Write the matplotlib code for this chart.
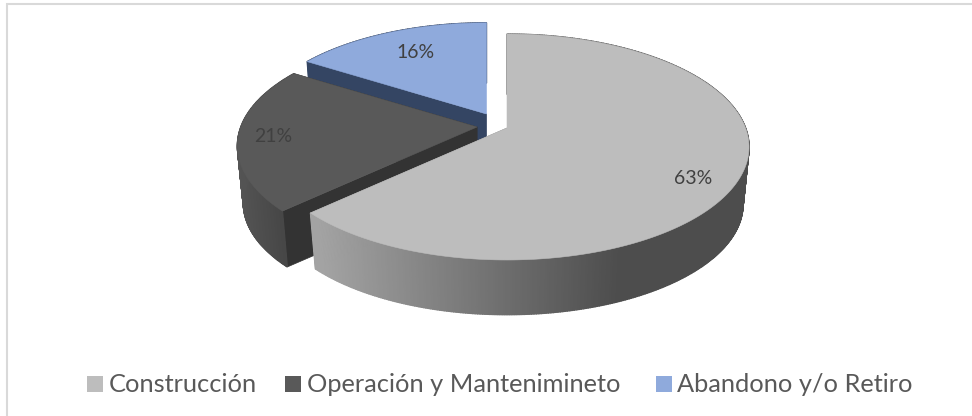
import numpy as np
import matplotlib
matplotlib.use("Agg")
import matplotlib.pyplot as plt
from matplotlib.patches import Polygon, Rectangle

categories = ["Construcción", "Operación y Mantenimineto", "Abandono y/o Retiro"]
shares = [63, 21, 16]
percent_labels = ["63%", "21%", "16%"]
top_colors = ["#bdbdbd", "#595959", "#8faadc"]
cut_colors = ["#8a8a8a", "#333333", "#344563"]

# pie geometry in pixels, perspective tilted like the office 3D pie
R_X = 238.6
R_Y = 109.8
PERSP = 0.168
DEPTH = 58
BOTTOM_SCALE = 0.975
apex_x = [507, 477, 486.5]
apex_y = [128, 127, 114]
slice_scale = [1.0, 0.99, 0.97]
label_x = [693, 273, 416]
label_y = [178, 136, 52]
legend_box_x = [87, 285, 656]
legend_text_x = [109, 307, 677]
LEGEND_Y = 384


def project(angle, cx, cy, scale):
    a = np.radians(angle)
    s = 1 / (1 + PERSP * np.cos(a))
    return cx + scale * R_X * np.sin(a) * s, cy - scale * R_Y * np.cos(a) * s


def lower(x, y, cx, cy):
    return cx + (x - cx) * BOTTOM_SCALE, cy + DEPTH + (y - cy) * BOTTOM_SCALE


def shade(i, x):
    if i == 0:
        # grey rim goes from light on the left to dark on the right
        t = np.clip((x - 318) / (620 - 318), 0, 1)
        v = 0.64 + (0.30 - 0.64) * t
        return (v, v, v)
    if i == 1:
        t = np.clip((x - 236) / 60, 0, 1)
        v = 0.33 - 0.07 * t
        return (v, v, v)
    return "#344563"


fig = plt.figure(figsize=(9.72, 4.16), dpi=100)
ax = fig.add_axes([0, 0, 1, 1])
ax.set_xlim(0, 972)
ax.set_ylim(416, 0)
ax.axis("off")

# frame runs off the right and bottom of the picture
ax.add_patch(Rectangle((7, 4), 980, 430, fc="white", ec="#d9d9d9", lw=1.5, zorder=-100))

edges = np.cumsum([0] + shares) / sum(shares) * 360

# back to front: blue, dark, grey
for i in [2, 1, 0]:
    cx, cy, sc = apex_x[i], apex_y[i], slice_scale[i]
    angles = np.arange(edges[i], edges[i + 1] + 0.25, 0.5)
    angles[-1] = edges[i + 1]
    xs, ys = project(angles, cx, cy, sc)
    bx, by = lower(xs, ys, cx, cy)
    # flat cut faces, the right side of the blue slice faces away
    for j in ([0] if i == 2 else [0, -1]):
        ax.add_patch(Polygon([(cx, cy), (xs[j], ys[j]), (bx[j], by[j]), (cx, cy + DEPTH)],
                             fc=cut_colors[i], ec=cut_colors[i], lw=0.5, zorder=i * -10 + 1))
    # outer rim in thin strips
    for k in range(len(angles) - 1):
        c = shade(i, (xs[k] + xs[k + 1]) / 2)
        ax.add_patch(Polygon([(xs[k], ys[k]), (xs[k + 1], ys[k + 1]), (bx[k + 1], by[k + 1]), (bx[k], by[k])],
                             fc=c, ec=c, lw=1.0, zorder=i * -10 + 2))
    ax.add_patch(Polygon(np.column_stack([np.r_[cx, xs], np.r_[cy, ys]]),
                         fc=top_colors[i], ec=top_colors[i], lw=0.4, zorder=i * -10 + 3))
    ax.text(label_x[i], label_y[i], percent_labels[i], ha="center", va="center",
            family="Lato", fontsize=14, color="#404040", zorder=5)

for i, name in enumerate(categories):
    ax.add_patch(Rectangle((legend_box_x[i], 376), 16, 16, fc=top_colors[i], ec="none"))
    ax.text(legend_text_x[i], LEGEND_Y, name, ha="left", va="center",
            family="Lato", fontsize=18.3, color="#595959")

fig.savefig("out.png", dpi=100)
